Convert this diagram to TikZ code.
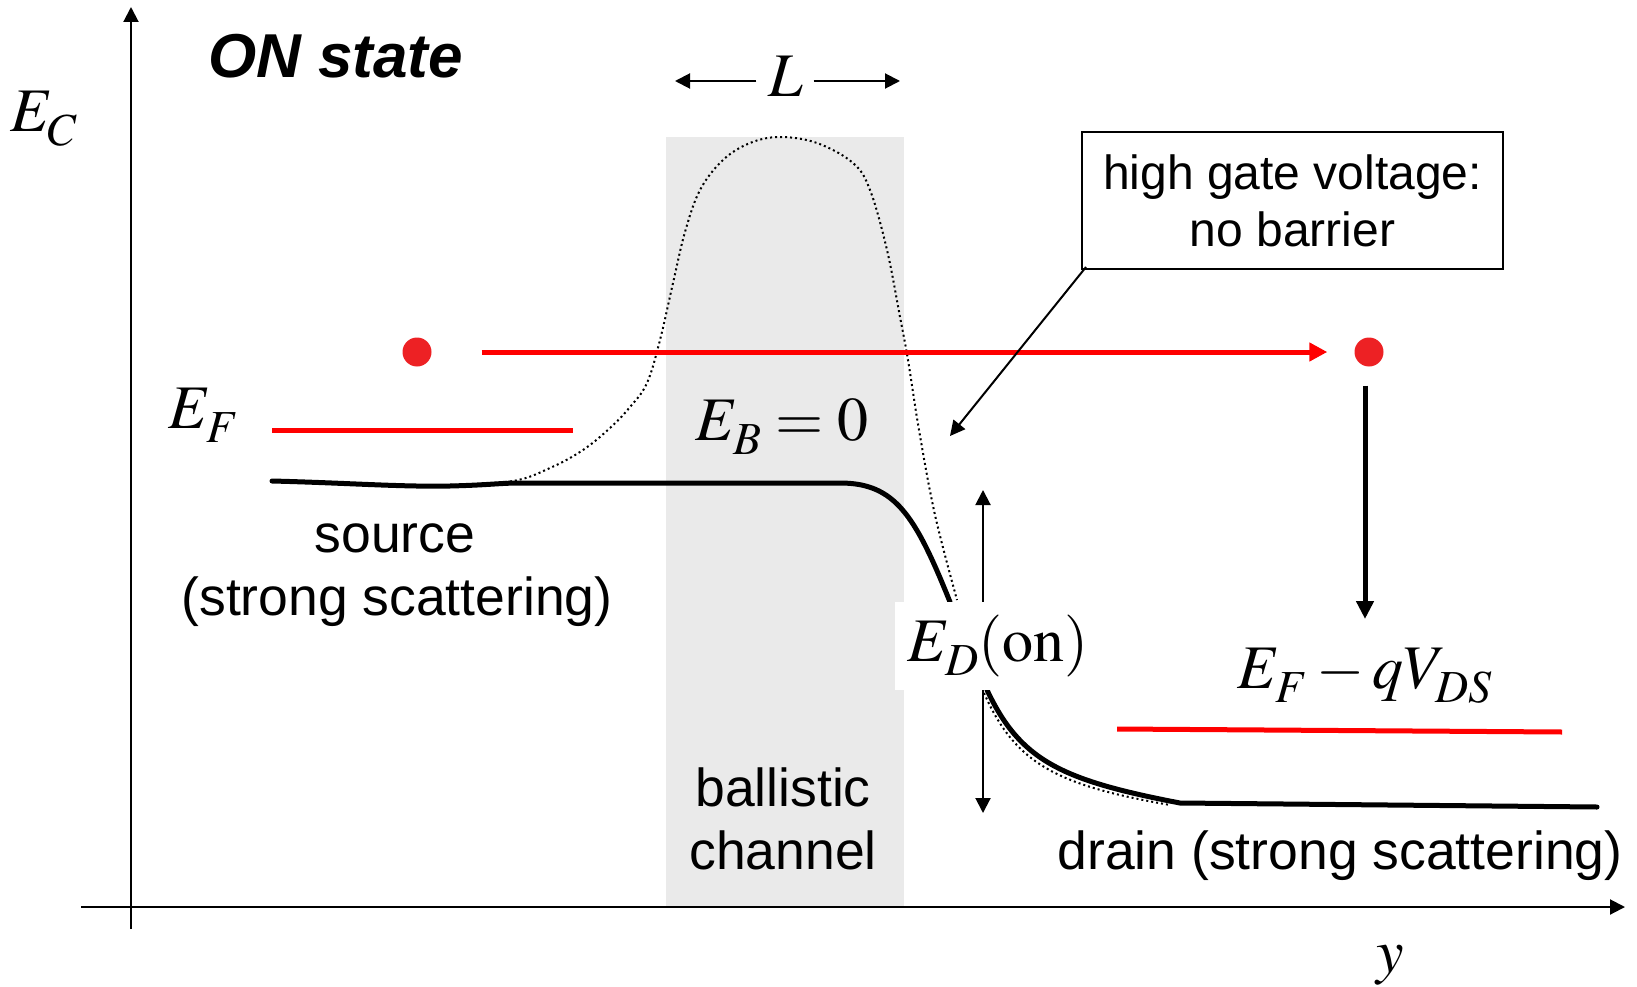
\documentclass[tikz,border=0pt]{standalone}
\usepackage{mathptmx}
\usepackage[no-math]{fontspec}
\setmainfont{Liberation Sans}
\usetikzlibrary{arrows.meta}
\definecolor{chgrey}{RGB}{234,234,234}
\definecolor{lred}{RGB}{255,0,0}
\definecolor{dred}{RGB}{237,33,36}
\newcommand\lowsub{\fontdimen16\textfont2=14pt\fontdimen17\textfont2=14pt}
\tikzset{
  axisarrow/.style={line width=2pt,-{Triangle[length=15pt,width=15pt]}},
  thinarrow/.style={line width=2pt,-{Triangle[length=15pt,width=15pt]}},
  bigarrow/.style={line width=5pt,-{Triangle[length=18pt,width=17pt]}},
  redarrow/.style={line width=5pt,lred,-{Triangle[length=18pt,width=18pt]}},
  band/.style={line width=5pt,line cap=round},
  barrier/.style={line width=2pt,dash pattern=on 2pt off 3pt},
  redline/.style={line width=5pt,lred},
  dot/.style={circle,fill=dred,inner sep=0pt,minimum size=29pt},
  txt/.style={inner sep=0pt,font=\fontsize{53.5}{62}\selectfont},
  mathlbl/.style={inner sep=0pt,font=\fontsize{62}{70}\selectfont},
  titletxt/.style={inner sep=0pt,font=\fontsize{62}{70}\selectfont\bfseries\itshape},
  callout/.style={draw,line width=2pt,minimum width=421pt,minimum height=137pt,inner sep=0pt,align=center,font=\fontsize{48}{57}\selectfont},
  edbox/.style={fill=white,inner xsep=12pt,inner ysep=0pt,minimum height=88pt,font=\fontsize{62}{70}\selectfont}
}
\begin{document}
\begin{tikzpicture}[x=1pt,y=-1pt]
\useasboundingbox (0,0) rectangle (1637,987);
% channel region
\fill[chgrey] (666,137) rectangle (904,907);
% axes
\coordinate (yb) at (131,929); \coordinate (yt) at (131,7);
\coordinate (xl) at (81,907); \coordinate (xr) at (1625,907);
\draw[axisarrow] (yb) -- (yt);
\draw[axisarrow] (xl) -- (xr);
% dotted barrier (off state)
\draw[barrier] plot[smooth,tension=0.6] coordinates {(450,485) (513,481) (550,468) (583,450) (610,428) (630,407) (647,383) (660,340) (673,283) (685,232) (700,190) (723,160) (750,143) (780,137) (817,143) (853,163) (870,190) (887,250) (900,317) (908,360) (919,430) (935,515) (957,600)};
\draw[barrier] (984,693) .. controls (1015,763) and (1055,785) .. (1170,805);
% conduction band (on state)
\draw[band] (272,481) .. controls (350,483) and (400,487) .. (450,486) .. controls (490,485) and (500,483) .. (520,483) -- (840,483) .. controls (895,483) and (915,515) .. (950,602);
\draw[band] (987,690) .. controls (1020,760) and (1060,780) .. (1180,803) -- (1597,807);
% Fermi levels
\coordinate (efa) at (272,430); \coordinate (efb) at (573,430);
\draw[redline] (efa) -- (efb);
\coordinate (efc) at (1117,729); \coordinate (efd) at (1562,732);
\draw[redline] (efc) -- (efd);
% electrons
\node[dot] (dotL) at (417,352) {};
\node[dot] (dotR) at (1369,352) {};
\draw[redarrow,shorten <=50pt,shorten >=27pt] (dotL) -- (dotR);
\coordinate (dtip) at (1365,619);
\draw[bigarrow,shorten <=19pt] (dotR.south -| dtip) -- (dtip);
% E_D box and arrows
\node[edbox,anchor=west] (ED) at (895,646) {$\lowsub E_D\mathrm{(on)}$};
\coordinate (edup) at (983,490); \coordinate (eddn) at (983,813);
\draw[thinarrow] (ED.north -| edup) -- (edup);
\draw[thinarrow] (ED.south -| eddn) -- (eddn);
% L
\node[mathlbl,anchor=base] (L) at (786,97) {$L$};
\coordinate (Ll) at (675,81); \coordinate (Lr) at (900,81);
\draw[thinarrow,shorten <=12pt] (L.west |- Ll) -- (Ll);
\draw[thinarrow,shorten <=10pt] (L.east |- Lr) -- (Lr);
% callout
\node[callout] (co) at (1292.5,200.5) {high gate voltage:\\no barrier};
\coordinate (cotip) at (950,436);
\draw[thinarrow] ([xshift=5pt,yshift=3pt]co.south west) -- (cotip);
% labels
\node[titletxt,anchor=base west] (on) at (208,78) {ON state};
\node[mathlbl,anchor=base west] (EC) at (10,132) {$\lowsub E_C$};
\node[mathlbl,anchor=base west] (EF) at (168,428) {$\lowsub E_F$};
\node[mathlbl,anchor=base west] (EB) at (695,440) {$\lowsub E_B = 0$};
\node[mathlbl,anchor=base west] (EFq) at (1237,688) {$\lowsub E_F - qV_{DS}$};
\node[mathlbl,anchor=base] (ylab) at (1390,972) {$y$};
\node[txt,anchor=base] (src) at (395,552) {source};
\node[txt,anchor=base] (src2) at (397,615) {(strong scattering)};
\node[txt,anchor=base] (bal) at (783,806) {ballistic};
\node[txt,anchor=base] (chn) at (783,869) {channel};
\node[txt,anchor=base] (drn) at (1340,869) {drain (strong scattering)};
\end{tikzpicture}
\end{document}
